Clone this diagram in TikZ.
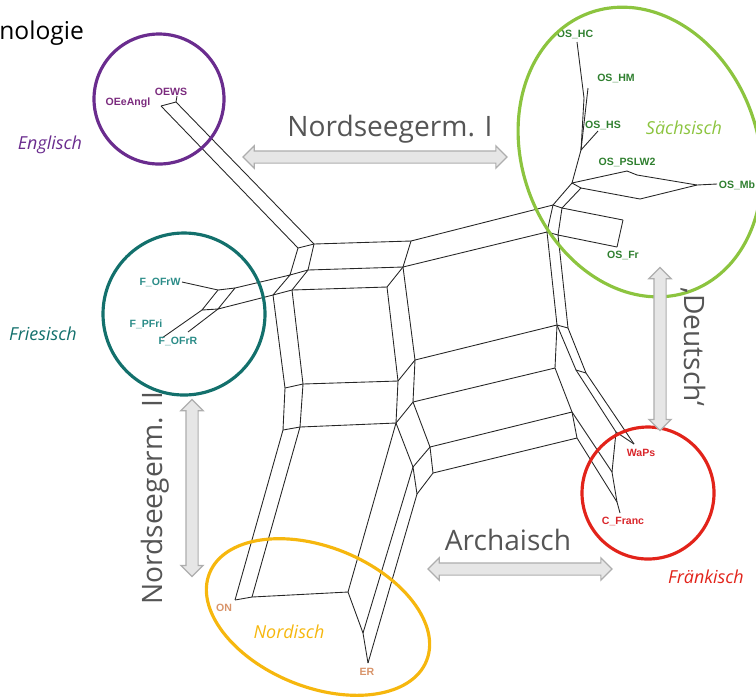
\documentclass[tikz,border=0pt]{standalone}
\usepackage{fontspec}
\setmainfont{Open Sans}
\newfontfamily\leaffont{Liberation Sans}
\usepackage{xcolor}
\usetikzlibrary{shapes.arrows, positioning}

\definecolor{englc}{HTML}{6A2C8E}
\definecolor{englleaf}{HTML}{7B2B7E}
\definecolor{friesc}{HTML}{13706C}
\definecolor{friesleaf}{HTML}{2B8C88}
\definecolor{saxc}{HTML}{8CC43F}
\definecolor{saxleaf}{HTML}{2F7F2F}
\definecolor{frankc}{HTML}{E2231A}
\definecolor{frankleaf}{HTML}{D9262B}
\definecolor{nordc}{HTML}{F6B70E}
\definecolor{nordleaf}{HTML}{D8946A}
\definecolor{arrowfill}{HTML}{E6E6E6}
\definecolor{arrowdraw}{HTML}{AEAEAE}
\definecolor{labelgray}{HTML}{555555}

\begin{document}
\begin{tikzpicture}[x=0.02cm, y=-0.02cm,
    split/.style={black!85, line width=0.5pt, line join=round},
    leaf/.style={font=\leaffont\bfseries\fontsize{6}{7}\selectfont, inner sep=0pt},
    group/.style={line width=1.8pt},
    grouplabel/.style={font=\itshape\fontsize{10.2}{12}\selectfont, inner sep=0pt},
    fatarrow/.style={double arrow, draw=arrowdraw, fill=arrowfill, line width=0.7pt,
      inner xsep=0pt, inner ysep=0.11cm, minimum width=0.42cm, double arrow head extend=0.1cm},
    arrowlabel/.style={text=labelgray, font=\fontsize{16}{19}\selectfont, inner sep=0pt}]
  \useasboundingbox (0,0) rectangle (756,698);

  % Title, cut off at the left
  \node[anchor=west, font=\fontsize{14}{17}\selectfont, inner sep=0pt] (title) at (-1,33) {nologie};

  % Englisch
  \coordinate (E0) at (177,96);
  \coordinate (E1) at (161,106);
  \coordinate (E2) at (176,102);

  % Centre
  \coordinate (P1) at (298,248);
  \coordinate (P2) at (314,244);
  \coordinate (P3) at (411,241);
  \coordinate (P4) at (290,275);
  \coordinate (P5) at (308,270);
  \coordinate (P6) at (403,267);
  \coordinate (P7) at (273,295);
  \coordinate (P8) at (292,290);
  \coordinate (P9) at (387,287);

  % Friesisch
  \coordinate (FW) at (182,282);
  \coordinate (Fa) at (218,290);
  \coordinate (Fb) at (235,288);
  \coordinate (Fc) at (202,310);
  \coordinate (Fd) at (218,309);
  \coordinate (FP) at (162,338);
  \coordinate (FR) at (188,332);

  % Left column
  \coordinate (L1) at (285,388);
  \coordinate (L2) at (303,384);
  \coordinate (L3) at (283,430);
  \coordinate (L4) at (300,427);

  % Nordisch
  \coordinate (ON) at (235,600);
  \coordinate (O2) at (252,597);
  \coordinate (N1) at (348,592);
  \coordinate (N2) at (363,633);
  \coordinate (ER) at (368,663);

  % Middle
  \coordinate (Q1) at (398,381);
  \coordinate (Q2) at (415,360);
  \coordinate (Q3) at (396,423);
  \coordinate (Q4) at (413,402);
  \coordinate (Q5) at (430,447);
  \coordinate (Q6) at (433,473);
  \coordinate (Q7) at (413,467);
  \coordinate (Q8) at (417,494);

  % Right column
  \coordinate (C2) at (553,205);
  \coordinate (D2) at (562,208);
  \coordinate (C3) at (547,232);
  \coordinate (D3) at (558,235);
  \coordinate (R1) at (557,325);
  \coordinate (T1) at (568,328);
  \coordinate (R2) at (555,368);
  \coordinate (R3) at (572,412);
  \coordinate (R4) at (577,438);
  \coordinate (R5) at (576,370);
  \coordinate (T5) at (586,373);

  % Fraenkisch
  \coordinate (W1) at (616,432);
  \coordinate (WA) at (634,444);
  \coordinate (F1) at (612,472);
  \coordinate (F2) at (617,502);
  \coordinate (FC) at (620,513);

  % Saechsisch
  \coordinate (S1) at (572,183);
  \coordinate (S2) at (581,188);
  \coordinate (S3) at (581,150);
  \coordinate (S4) at (584,98);
  \coordinate (HS) at (598,131);
  \coordinate (HM) at (588,88);
  \coordinate (HC) at (577,42);
  \coordinate (PA) at (627,171);
  \coordinate (PB) at (637,175);
  \coordinate (PC) at (640,199);
  \coordinate (MB1) at (697,185);
  \coordinate (MB) at (717,184);
  \coordinate (FR1) at (623,220);
  \coordinate (FRL) at (617,247);

  % Splits
  \foreach \a/\b in {E0/E2, E1/E2, E1/P1, E2/P2, P1/P2, P1/P4, P2/P5, P2/P3,
      P4/P5, P5/P6, P3/P6, P4/P7, P5/P8, P7/P8, P8/P9, P6/P9,
      FW/Fa, Fa/Fb, Fa/Fc, Fb/Fd, Fc/Fd, FP/Fc, FR/Fd, Fb/P4, Fd/P7,
      P7/L1, P8/L2, L1/L2, L2/Q1, L1/L3, L2/L4, L3/L4, L4/Q3, L3/ON, L4/O2, ON/O2, O2/N1,
      P9/Q1, P6/Q2, Q1/Q2, Q1/Q3, Q2/Q4, Q3/Q4, Q4/Q5, Q3/Q7, Q5/Q7, Q5/Q6, Q7/Q8, Q6/Q8,
      Q3/N1, Q7/N2, Q8/ER, N1/N2, N2/ER,
      P3/C2, P6/C3, C2/C3, C2/D2, C3/D3, D2/D3, C3/R1, D3/T1, R1/T1,
      Q2/R1, Q4/R2, Q5/R3, Q6/R4, R1/R2, R2/R3, R3/R4,
      R1/R5, T1/T5, R5/T5, R5/W1, W1/WA, T5/WA, W1/F1, R3/F1, R4/F2, F1/F2, F2/FC,
      C2/S1, D2/S2, S1/S2, S1/S3, S3/HS, S3/S4, S3/HM, S4/HC,
      S1/PA, S2/PC, PA/PB, PB/MB1, PC/MB1, MB1/MB, D2/FR1, D3/FRL, FR1/FRL}
    \draw[split] (\a) -- (\b);

  % Leaves
  \node[leaf, text=englleaf] (oews) at (171,92) {OEWS};
  \node[leaf, text=englleaf] (oeeangl) at (128,103) {OEeAngl};
  \node[leaf, text=saxleaf] (oshc) at (575,34) {OS\_HC};
  \node[leaf, text=saxleaf] (oshm) at (616,78) {OS\_HM};
  \node[leaf, text=saxleaf] (oshs) at (603,125) {OS\_HS};
  \node[leaf, text=saxleaf] (ospslw) at (627,162) {OS\_PSLW2};
  \node[leaf, text=saxleaf] (osmb) at (737,185) {OS\_Mb};
  \node[leaf, text=saxleaf] (osfr) at (623,255) {OS\_Fr};
  \node[leaf, text=friesleaf] (fofrw) at (160,282) {F\_OFrW};
  \node[leaf, text=friesleaf] (fpfri) at (146,324) {F\_PFri};
  \node[leaf, text=friesleaf] (fofrr) at (178,341) {F\_OFrR};
  \node[leaf, text=frankleaf] (waps) at (641,453) {WaPs};
  \node[leaf, text=frankleaf] (cfranc) at (623,521) {C\_Franc};
  \node[leaf, text=nordleaf] (on) at (224,608) {ON};
  \node[leaf, text=nordleaf] (er) at (367,672) {ER};

  % Groups
  \draw[group, englc] (159,99) circle [radius=65];
  \draw[group, friesc] (184,314) circle [radius=81];
  \draw[group, frankc] (648,493) circle [radius=66];
  \draw[group, saxc, rotate around={20:(640,152)}] (640,152) ellipse [x radius=118, y radius=148];
  \draw[group, nordc, rotate around={-22:(318,617)}] (318,617) ellipse [x radius=117, y radius=70];

  \node[grouplabel, text=englc] (englisch) at (50,145) {Englisch};
  \node[grouplabel, text=saxc] (saechsisch) at (684,128) {Sächsisch};
  \node[grouplabel, text=friesc] (friesisch) at (43,334) {Friesisch};
  \node[grouplabel, text=frankc] (fraenkisch) at (706,577) {Fränkisch};
  \node[grouplabel, text=nordc] (nordisch) at (289,632) {Nordisch};

  % Arrows
  \node[fatarrow, minimum height=5.28cm] (ngI) at (375,157) {};
  \node[fatarrow, minimum height=3.26cm, rotate=90] (deutsch) at (660,349) {};
  \node[fatarrow, minimum height=3.54cm, rotate=90] (ngII) at (192,488) {};
  \node[fatarrow, minimum height=3.68cm] (archaisch) at (520,569) {};

  \node[arrowlabel] (ngI-lbl) at (390,129) {Nordseegerm. I};
  \node[arrowlabel, rotate=-90] (deutsch-lbl) at (693,347) {‚Deutsch‘};
  \node[arrowlabel, rotate=90] (ngII-lbl) at (155,498) {Nordseegerm. II};
  \node[arrowlabel] (archaisch-lbl) at (508,540) {Archaisch};
\end{tikzpicture}
\end{document}
